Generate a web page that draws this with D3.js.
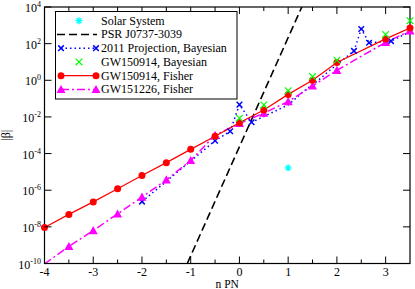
<!DOCTYPE html>
<html>
<head>
<meta charset="utf-8">
<script src="https://cdn.jsdelivr.net/npm/d3@7"></script>
<style>
  body { margin: 0; background: #fff; }
  svg text { font-family: "Liberation Serif", "Times New Roman", serif; }
</style>
</head>
<body>
<div class="graphic"></div>
<script>
// PN orders
let pnX = [-4, -3.5, -3, -2.5, -2, -1.5, -1, -0.5, 0, 0.5, 1, 1.5, 2, 3, 3.5];
// GW150914, Fisher
let gw150914Fisher = [9.3e-9, 4.8e-8, 2.3e-7, 1.2e-6, 6.3e-6, 3.2e-5, 1.7e-4, 8.9e-4, 4.8e-3, 2.4e-2, 0.17, 1.0, 9.3, 182, 708];
// GW151226, Fisher
let gw151226Fisher = [9.5e-11, 8.5e-10, 6.3e-9, 5.1e-8, 4.2e-7, 3.7e-6, 4.2e-5, 1.0e-3, 4.4e-3, 1.6e-2, 6.9e-2, 0.49, 3.5, 117, 500];
// GW150914, Bayesian
let bayesX = [0, 0.5, 1, 1.5, 2, 3, 3.5];
let gw150914Bayes = [8.5e-3, 4.5e-2, 0.27, 1.6, 12.6, 316, 1780];
// 2011 projection, Bayesian
let projX = [-2, -0.5, -0.19, 0, 0.25, 1, 1.31, 1.62, 1.82, 2.35, 2.5, 2.66, 3.11, 3.5];
let projY = [2.4e-7, 5.0e-4, 1.66e-3, 4.7e-2, 5.1e-3, 4.5e-2, 0.24, 1.0, 2.95, 40, 630, 112, 138, 447];
let projMark = [1, 1, 1, 1, 1, 0, 0, 0, 0, 1, 1, 1, 1, 0];
// PSR J0737-3039
let psrX = [-1.07, 1.28];
let psrY = [1e-10, 1e4];
// Solar System
let solarX = [1];
let solarY = [1.66e-5];

let xTicks = [-4, -3, -2, -1, 0, 1, 2, 3];
let xMinor = [-3.5, -2.5, -1.5, -0.5, 0.5, 1.5, 2.5];
let yExp = [4, 2, 0, -2, -4, -6, -8, -10];

let W = 415, H = 289;
let svg = d3.select(".graphic")
            .append("svg")
            .attr("width", W)
            .attr("height", H);

let pLeft = 44.5, pRight = 410, pTop = 7, pBottom = 263.5;
let x = d3.scaleLinear().domain([-4, 3.5]).range([pLeft, pRight]);
let y = d3.scaleLog().domain([1e-10, 1e4]).range([pBottom, pTop]);

svg.append("clipPath").attr("id", "clip")
    .append("rect").attr("x", pLeft).attr("y", pTop)
    .attr("width", pRight - pLeft).attr("height", pBottom - pTop);

let plot = svg.append("g").attr("clip-path", "url(#clip)");

let line = d3.line().x(d => x(d[0])).y(d => y(d[1]));
let inside = d => d[1] >= 1e-10 && d[1] <= 1e4;

function xShape(g, cx, cy, s, color, w) {
    g.append("path")
        .attr("d", `M${cx - s},${cy - s}L${cx + s},${cy + s}M${cx - s},${cy + s}L${cx + s},${cy - s}`)
        .attr("stroke", color).attr("stroke-width", w).attr("fill", "none");
}
function triangle(g, cx, cy, s, color) {
    g.append("path")
        .attr("d", `M${cx},${cy - s}L${cx + s},${cy + s * 0.8}L${cx - s},${cy + s * 0.8}Z`)
        .attr("fill", color);
}
function asterisk(g, cx, cy, s, color) {
    let d = "";
    for (let i = 0; i < 4; i++) {
        let a = i * Math.PI / 4;
        d += `M${cx - s * Math.cos(a)},${cy - s * Math.sin(a)}L${cx + s * Math.cos(a)},${cy + s * Math.sin(a)}`;
    }
    g.append("path").attr("d", d).attr("stroke", color).attr("stroke-width", 1.3);
}

// lines (clipped to the frame)
plot.append("path")
    .attr("d", line(d3.zip(psrX, psrY)))
    .attr("stroke", "#000").attr("stroke-width", 1.6)
    .attr("stroke-dasharray", "8,4").attr("fill", "none");

let proj = d3.zip(projX, projY);
plot.append("path")
    .attr("d", line(proj))
    .attr("stroke", "#0000ff").attr("stroke-width", 1.5)
    .attr("stroke-dasharray", "1.5,3").attr("fill", "none");

let mag = d3.zip(pnX, gw151226Fisher);
plot.append("path")
    .attr("d", line(mag))
    .attr("stroke", "#ff00ff").attr("stroke-width", 1.5)
    .attr("stroke-dasharray", "8,3,2,3").attr("fill", "none");

let red = d3.zip(pnX, gw150914Fisher);
plot.append("path")
    .attr("d", line(red))
    .attr("stroke", "#ff0000").attr("stroke-width", 1.2).attr("fill", "none");

// frame
svg.append("rect")
    .attr("x", pLeft).attr("y", pTop)
    .attr("width", pRight - pLeft).attr("height", pBottom - pTop)
    .attr("fill", "none").attr("stroke", "#000").attr("stroke-width", 1.2);

// markers (drawn whole, only for points inside the range)
let mk = svg.append("g");
proj.forEach((d, i) => {
    if (projMark[i] && inside(d)) xShape(mk, x(d[0]), y(d[1]), 2.8, "#0000ff", 1.5);
});
mag.filter(inside).forEach(d => triangle(mk, x(d[0]), y(d[1]), 4.5, "#ff00ff"));
red.filter(inside).forEach(d => mk.append("circle")
    .attr("cx", x(d[0])).attr("cy", y(d[1])).attr("r", 3.5).attr("fill", "#ff0000"));
d3.zip(bayesX, gw150914Bayes).filter(inside)
    .forEach(d => xShape(mk, x(d[0]), y(d[1]), 3.3, "#00ff00", 1.2));
d3.zip(solarX, solarY).forEach(d => asterisk(mk, x(d[0]), y(d[1]), 3.5, "#00ffff"));

// ticks
let tk = svg.append("g").attr("stroke", "#000").attr("stroke-width", 1);
xTicks.forEach(t => {
    tk.append("line").attr("x1", x(t)).attr("x2", x(t)).attr("y1", pBottom).attr("y2", pBottom - 7);
    tk.append("line").attr("x1", x(t)).attr("x2", x(t)).attr("y1", pTop).attr("y2", pTop + 7);
});
xMinor.forEach(t => {
    tk.append("line").attr("x1", x(t)).attr("x2", x(t)).attr("y1", pBottom).attr("y2", pBottom - 4);
    tk.append("line").attr("x1", x(t)).attr("x2", x(t)).attr("y1", pTop).attr("y2", pTop + 4);
});
yExp.forEach(e => {
    let v = Math.pow(10, e);
    tk.append("line").attr("x1", pLeft).attr("x2", pLeft + 7).attr("y1", y(v)).attr("y2", y(v));
    tk.append("line").attr("x1", pRight).attr("x2", pRight - 7).attr("y1", y(v)).attr("y2", y(v));
});

// tick labels
xTicks.forEach(t => {
    svg.append("text")
        .attr("x", x(t)).attr("y", 275.5)
        .attr("text-anchor", "middle").attr("font-size", 12)
        .text(t);
});
yExp.forEach(e => {
    let t = svg.append("text")
        .attr("x", 41).attr("y", y(Math.pow(10, e)) + 5)
        .attr("text-anchor", "end").attr("font-size", 12);
    t.append("tspan").text("10");
    t.append("tspan").attr("dy", -5).attr("font-size", 8).text(e);
});

// axis labels
svg.append("text")
    .attr("x", (pLeft + pRight) / 2).attr("y", 288)
    .attr("text-anchor", "middle").attr("font-size", 11.5)
    .text("n PN");
svg.append("text")
    .attr("transform", `translate(9.5,${(pTop + pBottom) / 2}) rotate(-90)`)
    .attr("text-anchor", "middle").attr("font-size", 12)
    .text("|β|");

// legend
let lg = svg.append("g");
lg.append("rect")
    .attr("x", 55.5).attr("y", 11.5).attr("width", 181.5).attr("height", 87.5)
    .attr("fill", "#fff").attr("stroke", "#000").attr("stroke-width", 1);
let entries = ["Solar System", "PSR J0737-3039", "2011 Projection, Bayesian",
               "GW150914, Bayesian", "GW150914, Fisher", "GW151226, Fisher"];
entries.forEach((name, i) => {
    let ly = 20.7 + i * 13.75;
    lg.append("text").attr("x", 101).attr("y", ly + 4).attr("font-size", 12).text(name);
    if (i === 0) asterisk(lg, 79, ly, 3.5, "#00ffff");
    if (i === 1) lg.append("line").attr("x1", 57).attr("x2", 97).attr("y1", ly).attr("y2", ly)
        .attr("stroke", "#000").attr("stroke-width", 1.6).attr("stroke-dasharray", "8,4");
    if (i === 2) {
        lg.append("line").attr("x1", 61).attr("x2", 96).attr("y1", ly).attr("y2", ly)
            .attr("stroke", "#0000ff").attr("stroke-width", 1.5).attr("stroke-dasharray", "1.5,3");
        xShape(lg, 61, ly, 2.8, "#0000ff", 1.5);
        xShape(lg, 96, ly, 2.8, "#0000ff", 1.5);
    }
    if (i === 3) xShape(lg, 79, ly, 3.3, "#00ff00", 1.2);
    if (i === 4) {
        lg.append("line").attr("x1", 61).attr("x2", 96).attr("y1", ly).attr("y2", ly)
            .attr("stroke", "#ff0000").attr("stroke-width", 1.2);
        lg.append("circle").attr("cx", 61).attr("cy", ly).attr("r", 3.5).attr("fill", "#ff0000");
        lg.append("circle").attr("cx", 96).attr("cy", ly).attr("r", 3.5).attr("fill", "#ff0000");
    }
    if (i === 5) {
        lg.append("line").attr("x1", 61).attr("x2", 96).attr("y1", ly).attr("y2", ly)
            .attr("stroke", "#ff00ff").attr("stroke-width", 1.5).attr("stroke-dasharray", "8,3,2,3");
        triangle(lg, 61, ly, 4.5, "#ff00ff");
        triangle(lg, 96, ly, 4.5, "#ff00ff");
    }
});
</script>
</body>
</html>
